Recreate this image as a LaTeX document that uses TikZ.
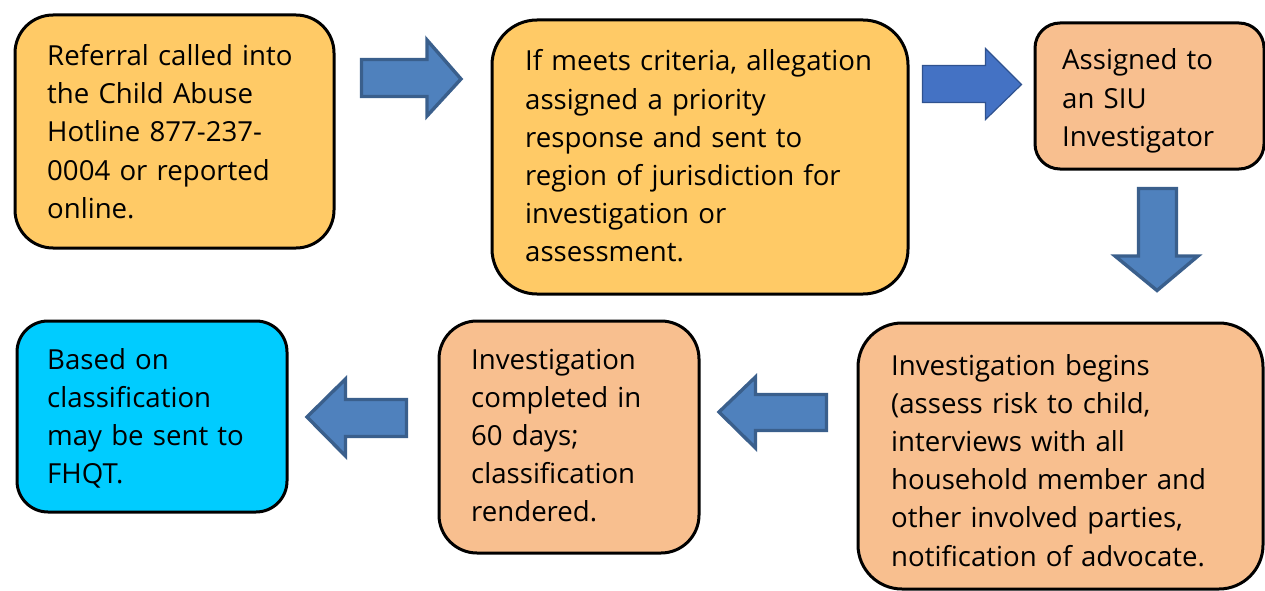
\documentclass[tikz,border=0pt]{standalone}
\usepackage{fontspec}
\setmainfont{Open Sans}
\definecolor{gold}{HTML}{FFCA66}
\definecolor{peach}{HTML}{F8BF8F}
\definecolor{skyc}{HTML}{00CCFF}
\definecolor{arrfill}{HTML}{4F81BD}
\definecolor{arrline}{HTML}{3A5F8C}
\definecolor{arrfillb}{HTML}{4472C4}
\definecolor{arrlineb}{HTML}{2F528F}
\tikzset{
  stepbox/.style={draw=black, line width=3pt, inner sep=0pt, anchor=north west},
  txt/.style={inner sep=0pt, anchor=base west, text width=420pt, align=left,
    font=\fontsize{27.6}{38.2}\selectfont},
  blockarrow/.style={fill=arrfill, draw=arrline, line width=3.4pt, line join=miter},
  blockarrowb/.style={fill=arrfillb, draw=arrlineb, line width=1.2pt, line join=miter}
}
\begin{document}
\begin{tikzpicture}[x=1pt,y=-1pt]
\useasboundingbox (0,0) rectangle (1265,591);
% boxes
\node[stepbox, fill=gold, rounded corners=38pt, minimum width=319pt, minimum height=233pt] (b1) at (13.5,13.5) {};
\node[stepbox, fill=gold, rounded corners=45pt, minimum width=416pt, minimum height=274pt] (b2) at (490.5,18.5) {};
\node[stepbox, fill=peach, rounded corners=25pt, minimum width=229pt, minimum height=146pt] (b3) at (1033.5,21.5) {};
\node[stepbox, fill=peach, rounded corners=44pt, minimum width=405pt, minimum height=266pt] (b4) at (856.5,321.5) {};
\node[stepbox, fill=peach, rounded corners=38pt, minimum width=260pt, minimum height=232pt] (b5) at (437.5,319.5) {};
\node[stepbox, fill=skyc, rounded corners=31pt, minimum width=270pt, minimum height=191pt] (b6) at (15.5,319.5) {};
% texts
\node[txt] (t1) at (47,65.5) {Referral called into\\the Child Abuse\\Hotline 877-237-\\0004 or reported\\online.};
\node[txt] (t2) at (525,71) {If meets criteria, allegation\\assigned a priority\\response and sent to\\region of jurisdiction for\\investigation or\\assessment.};
\node[txt] (t3) at (1062,70) {Assigned to\\an SIU\\Investigator};
\node[txt] (t4) at (891,375) {Investigation begins\\(assess risk to child,\\interviews with all\\household member and\\other involved parties,\\notification of advocate.};
\node[txt] (t5) at (471,369) {Investigation\\completed in\\60 days;\\classification\\rendered.};
\node[txt] (t6) at (47,369) {Based on\\classification\\may be sent to\\FHQT.};
% block arrows
\draw[blockarrow] (361.5,59.5) -- (427,59.5) -- (427,40) -- (461,79) -- (427,116) -- (427,96.5) -- (361.5,96.5) -- cycle;
\draw[blockarrowb] (922.5,65.5) -- (985.5,65.5) -- (985.5,48.5) -- (1021.5,84.5) -- (985.5,119.5) -- (985.5,102.5) -- (922.5,102.5) -- cycle;
\draw[blockarrow] (1138.5,188.5) -- (1176.5,188.5) -- (1176.5,256) -- (1198,256) -- (1157,290.5) -- (1115,256) -- (1138.5,256) -- cycle;
\draw[blockarrow] (826.5,394.5) -- (755.5,394.5) -- (755.5,377) -- (719,412) -- (755.5,448) -- (755.5,430.5) -- (826.5,430.5) -- cycle;
\draw[blockarrow] (406.5,399.5) -- (345.5,399.5) -- (345.5,379) -- (307,417) -- (345.5,456) -- (345.5,436.5) -- (406.5,436.5) -- cycle;
\end{tikzpicture}
\end{document}
